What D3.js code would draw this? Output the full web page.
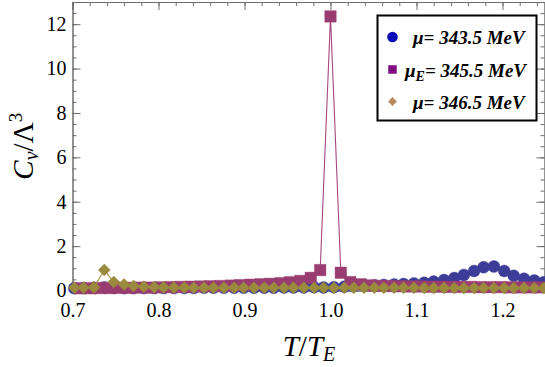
<!DOCTYPE html>
<html>
<head>
<meta charset="utf-8">
<script src="https://cdn.jsdelivr.net/npm/d3@7"></script>
<style>
  body { margin: 0; background: #fff; }
  svg { display: block; }
  .tick text { font-family: "Liberation Serif", "DejaVu Serif", serif; }
</style>
</head>
<body>
<svg id="chart" width="545" height="367"></svg>
<script>
// T/T_E grid of the mu_E run (magenta)
var tMagenta = [0.709,0.721,0.733,0.744,0.756,0.767,0.779,0.791,0.802,0.814,0.826,0.837,0.849,0.860,0.872,0.884,
  0.895,0.907,0.919,0.930,0.942,0.953,0.965,0.977,0.988,1.000,1.012,1.023,1.035,1.047,1.058,1.070,1.081,1.093,
  1.105,1.116,1.128,1.140,1.151,1.163,1.174,1.186,1.198,1.209,1.221,1.233,1.244];
var cvMagenta = [0.10,0.10,0.11,0.11,0.12,0.12,0.13,0.13,0.14,0.15,0.16,0.17,0.18,0.19,0.20,0.22,
  0.24,0.26,0.28,0.30,0.33,0.37,0.43,0.57,0.92,12.35,0.80,0.38,0.28,0.23,0.21,0.20,0.19,0.18,
  0.18,0.17,0.17,0.16,0.16,0.16,0.15,0.15,0.15,0.14,0.14,0.14,0.14];

// T/T_E grid of the other two runs
var tOther = [0.702,0.713,0.725,0.737,0.748,0.760,0.771,0.783,0.795,0.806,0.818,0.830,0.841,0.853,0.864,0.876,
  0.888,0.899,0.911,0.923,0.934,0.946,0.957,0.969,0.981,0.992,1.004,1.016,1.027,1.039,1.051,1.062,1.074,1.085,
  1.097,1.109,1.120,1.132,1.144,1.155,1.167,1.178,1.190,1.202,1.213,1.225,1.237,1.248];
var cvBlue = [0.10,0.11,0.12,0.14,0.12,0.11,0.11,0.11,0.11,0.11,0.11,0.11,0.11,0.12,0.12,0.12,
  0.12,0.12,0.12,0.12,0.12,0.13,0.13,0.14,0.15,0.14,0.15,0.17,0.19,0.21,0.23,0.25,0.27,0.29,
  0.32,0.35,0.40,0.47,0.56,0.70,0.88,1.05,1.08,0.88,0.66,0.53,0.45,0.37];
var cvOlive = [0.12,0.13,0.14,0.92,0.38,0.27,0.20,0.17,0.15,0.14,0.13,0.13,0.12,0.12,0.12,0.12,
  0.12,0.12,0.12,0.12,0.12,0.12,0.12,0.12,0.12,0.12,0.12,0.12,0.12,0.12,0.12,0.12,0.12,0.12,
  0.12,0.11,0.11,0.11,0.11,0.11,0.11,0.11,0.11,0.11,0.11,0.11,0.11,0.11];

var xMajor = [0.7,0.8,0.9,1.0,1.1,1.2];
var yMajor = [0,2,4,6,8,10,12];
var legendLabels = ["343.5 MeV","345.5 MeV","346.5 MeV"];

(function () {
  var svg = d3.select('#chart');
  var pl = 72.5, pr = 545.5, pt = 2, pb = 290.5;
  var x = d3.scaleLinear().domain([0.7,1.25]).range([pl,pr]);
  var y = d3.scaleLinear().domain([0,13]).range([pb,pt]);

  var xMinor = d3.range(0.7,1.251,0.02).map(function(v){return +v.toFixed(2);});
  var yMinor = d3.range(0,13.01,0.5);

  var frameCol = '#6e6e6e';
  function styleAxis(g){
    g.select('.domain').attr('stroke',frameCol);
    g.selectAll('.tick line').attr('stroke',frameCol);
    g.selectAll('.tick text').attr('fill','#000').style('font-size','20px');
  }
  // frame: bottom, top, left, right
  svg.append('g').attr('transform','translate(0,'+pb+')')
    .call(d3.axisBottom(x).tickValues(xMinor).tickSize(-4).tickFormat('')).call(styleAxis);
  svg.append('g').attr('transform','translate(0,'+pb+')')
    .call(d3.axisBottom(x).tickValues(xMajor).tickSize(-8).tickPadding(8).tickFormat(d3.format('.1f'))).call(styleAxis)
    .selectAll('.tick text').attr('dy','0.9em');
  svg.append('g').attr('transform','translate(0,'+pt+')')
    .call(d3.axisTop(x).tickValues(xMinor).tickSize(-4).tickFormat('')).call(styleAxis);
  svg.append('g').attr('transform','translate(0,'+pt+')')
    .call(d3.axisTop(x).tickValues(xMajor).tickSize(-8).tickFormat('')).call(styleAxis);
  svg.append('g').attr('transform','translate('+pl+',0)')
    .call(d3.axisLeft(y).tickValues(yMinor).tickSize(-4).tickFormat('')).call(styleAxis);
  svg.append('g').attr('transform','translate('+pl+',0)')
    .call(d3.axisLeft(y).tickValues(yMajor).tickSize(-8).tickPadding(6)).call(styleAxis);
  svg.append('g').attr('transform','translate('+(pr-1)+',0)')
    .call(d3.axisRight(y).tickValues(yMinor).tickSize(-4).tickFormat('')).call(styleAxis);
  svg.append('g').attr('transform','translate('+(pr-1)+',0)')
    .call(d3.axisRight(y).tickValues(yMajor).tickSize(-8).tickFormat('')).call(styleAxis);

  // series, drawn blue -> magenta -> olive
  var series = [
    {t:tOther, v:cvBlue, fill:'#3d3d99', line:'#6a6ab0', shape:'circle'},
    {t:tMagenta, v:cvMagenta, fill:'#993d71', line:'#a8467e', shape:'square'},
    {t:tOther, v:cvOlive, fill:'#998a3d', line:'#a89a50', shape:'diamond'}
  ];
  var line = d3.line().x(function(d){return x(d[0]);}).y(function(d){return y(d[1]);});
  var sym = {
    circle: d3.symbol().type(d3.symbolCircle).size(Math.PI*6*6),
    square: d3.symbol().type(d3.symbolSquare).size(11.5*11.5),
    diamond: d3.symbol().type(d3.symbolDiamond2).size(2*6.8*6.8)
  };
  series.forEach(function(s){
    var pts = s.t.map(function(t,i){return [t,s.v[i]];});
    svg.append('path').datum(pts).attr('d',line).attr('fill','none')
      .attr('stroke',s.line).attr('stroke-width',1.1);
    svg.append('g').selectAll('path').data(pts).enter().append('path')
      .attr('d',sym[s.shape]())
      .attr('transform',function(d){return 'translate('+x(d[0])+','+y(d[1])+')';})
      .attr('fill',s.fill).attr('stroke',s.fill).attr('stroke-opacity',0.5).attr('stroke-width',0.8);
  });

  // axis titles
  var serif = '"Liberation Serif", "DejaVu Serif", serif';
  var xt = svg.append('text').attr('x',(pl+pr)/2).attr('y',356).attr('text-anchor','middle')
    .style('font-family',serif).style('font-size','29px').style('font-style','italic');
  xt.append('tspan').text('T');
  xt.append('tspan').style('font-style','normal').text('/');
  xt.append('tspan').text('T');
  xt.append('tspan').attr('dy',5).style('font-size','20px').text('E');

  var yt = svg.append('text').attr('transform','translate(33,'+((pt+pb)/2)+') rotate(-90)')
    .attr('text-anchor','middle').style('font-family',serif).style('font-size','29px');
  yt.append('tspan').style('font-style','italic').text('C');
  yt.append('tspan').attr('dy',5).style('font-size','20px').style('font-style','italic').text('v');
  yt.append('tspan').attr('dy',-5).text('/Λ');
  yt.append('tspan').attr('dy',-11).style('font-size','19px').text('3');

  // legend
  var lg = svg.append('g');
  lg.append('rect').attr('x',377.5).attr('y',15.5).attr('width',159).attr('height',105)
    .attr('fill','#fff').attr('stroke','#000').attr('stroke-width',2);
  var legCols = ['#0b0bb8','#800a80','#b8895a'];
  var legShapes = [d3.symbolCircle, d3.symbolSquare, d3.symbolDiamond2];
  var legSizes = [Math.PI*5.3*5.3, 8.5*8.5, 2*5*5];
  var legY = [37, 69.5, 101.5];
  legendLabels.forEach(function(lab,i){
    lg.append('path').attr('d',d3.symbol().type(legShapes[i]).size(legSizes[i])())
      .attr('transform','translate(392.5,'+legY[i]+')').attr('fill',legCols[i]);
    var tx = lg.append('text').attr('y',legY[i]+7).attr('x', i===1 ? 405 : 413)
      .style('font-family',serif).style('font-size','19px').style('font-weight','bold').style('font-style','italic');
    tx.append('tspan').text('μ');
    if(i===1){ tx.append('tspan').attr('dy',4).style('font-size','14px').text('E'); tx.append('tspan').attr('dy',-4).text('= '+lab); }
    else tx.append('tspan').text('= '+lab);
  });
})();
</script>
</body>
</html>
